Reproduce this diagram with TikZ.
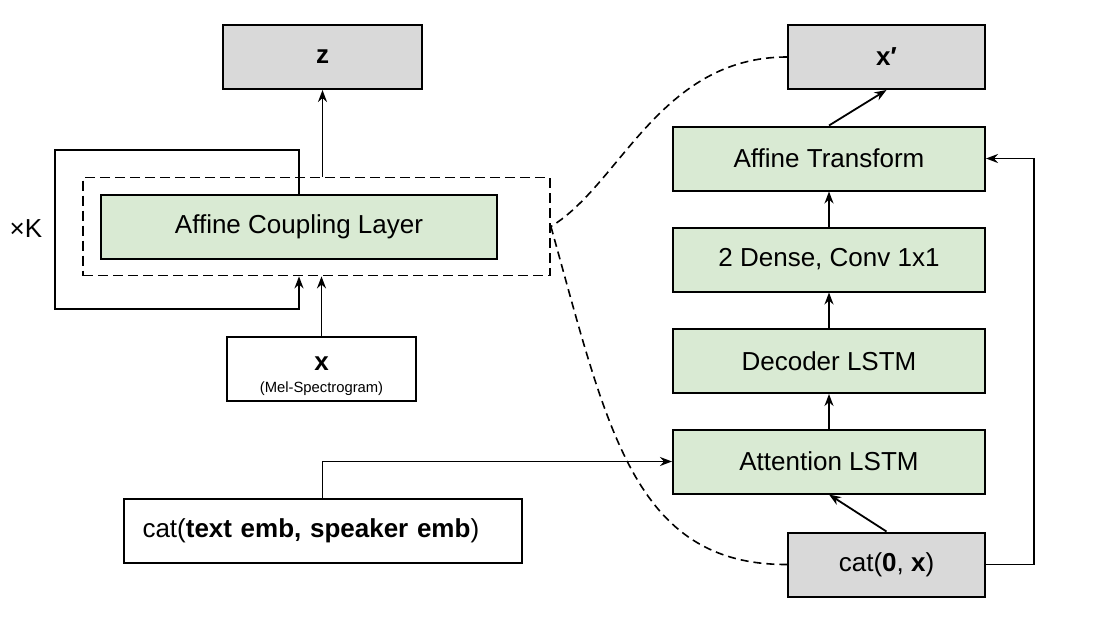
\documentclass[tikz,border=0pt]{standalone}
\usepackage{fontspec}
\setmainfont{Liberation Sans}
\usetikzlibrary{arrows.meta}
\definecolor{layergreen}{HTML}{D9EAD3}
\definecolor{outgrey}{HTML}{D9D9D9}
\begin{document}
\begin{tikzpicture}[x=0.5pt,y=-0.5pt,
		blk/.style={draw,line width=1pt,minimum height=32pt,inner sep=0pt,font=\fontsize{13}{15}\selectfont},
		layerbox/.style={blk,fill=layergreen,minimum width=156pt},
		outbox/.style={blk,fill=outgrey,minimum width=98.5pt},
		arr/.style={-{Stealth[length=6pt,width=4.5pt]},line width=0.9pt},
		link/.style={dash pattern=on 4pt off 2.5pt,line width=0.8pt}]
		\useasboundingbox (0,0) rectangle (1110,627);
		% flow side
		\node[outbox,minimum width=99.5pt] (z) at (322.5,57) {\textbf{z}};
		\node[draw,line width=0.9pt,dash pattern=on 5pt off 2.5pt,minimum width=233.5pt,minimum height=49pt] (dash) at (316.5,226.5) {};
		\node[blk,fill=layergreen,minimum width=198pt] (acl) at (299,227) {Affine Coupling Layer};
		\node[blk,minimum width=94.5pt,align=center] (xin) at (321.5,369) {\rule{0pt}{13.8pt}\textbf{x}\\[-4pt]{\fontsize{7.4}{8}\selectfont (Mel-Spectrogram)}};
		\node[font=\fontsize{13}{15}\selectfont] (k) at (26,229) {×K};
		\node[blk,text width=180pt,align=left,inner xsep=9.5pt] (emb) at (322.5,531) {cat(\textbf{text emb, speaker emb})};
		% decoder side
		\node[outbox] (xp) at (886.5,57) {\textbf{x′}};
		\node[layerbox] (aff) at (829,158.5) {Affine Transform};
		\node[layerbox] (dense) at (829,259.5) {2 Dense, Conv 1x1};
		\node[layerbox] (dec) at (829,361) {Decoder LSTM};
		\node[layerbox] (att) at (829,461.5) {Attention LSTM};
		\node[outbox] (catx) at (886.5,564.5) {cat(\textbf{0}, \textbf{x})};
		% connectors
		\draw[arr] (z.south |- dash.north) -- (z.south);
		\draw[arr] (acl.north) -- ++(0,-44) -- ++(-244,0) -- ++(0,159) -| (acl.north |- dash.south);
		\draw[arr] (xin.north) -- (xin.north |- dash.south);
		\draw[arr] (emb.north) |- (att.west);
		\draw[arr] (catx.north) -- (att.south);
		\draw[arr] (att.north) -- (dec.south);
		\draw[arr] (dec.north) -- (dense.south);
		\draw[arr] (dense.north) -- (aff.south);
		\draw[arr] (aff.north) -- (xp.south);
		\draw[arr] (catx.east) -- ++(48,0) |- (aff.east);
		\draw[link] (xp.west) .. controls (660,57) and (620,185) .. (dash.east);
		\draw[link] (dash.east) .. controls (607,427) and (633,565) .. (catx.west);
	\end{tikzpicture}
\end{document}
